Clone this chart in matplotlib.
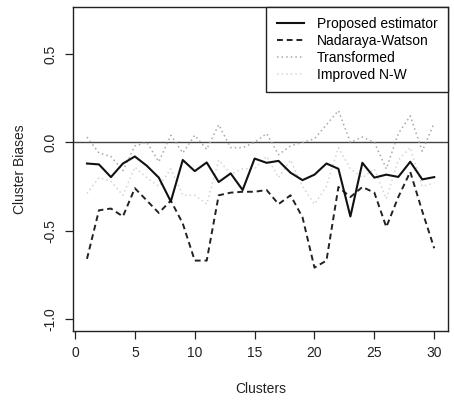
import matplotlib.pyplot as plt

plt.rcParams['font.family'] = ['Liberation Sans', 'DejaVu Sans']

clusters = list(range(1, 31))

proposed = [-0.12, -0.125, -0.197, -0.12, -0.08, -0.133, -0.20, -0.335, -0.10, -0.163,
            -0.114, -0.225, -0.176, -0.27, -0.092, -0.116, -0.105, -0.172, -0.214, -0.183,
            -0.12, -0.15, -0.42, -0.116, -0.20, -0.183, -0.196, -0.11, -0.21, -0.197]

nadaraya_watson = [-0.66, -0.385, -0.375, -0.42, -0.26, -0.33, -0.40, -0.33, -0.46, -0.67,
                   -0.67, -0.30, -0.285, -0.28, -0.28, -0.27, -0.35, -0.30, -0.425, -0.71,
                   -0.67, -0.253, -0.31, -0.253, -0.285, -0.48, -0.31, -0.167, -0.39, -0.60]

transformed = [0.03, -0.06, -0.08, -0.16, -0.02, 0.0, -0.11, 0.04, -0.06, 0.04,
               -0.04, 0.10, -0.03, -0.03, 0.0, 0.05, -0.07, -0.02, 0.0, 0.02,
               0.10, 0.18, 0.0, 0.03, 0.0, -0.15, 0.05, 0.15, -0.05, 0.11]

improved_nw = [-0.29, -0.20, -0.22, -0.30, -0.14, -0.20, -0.25, -0.15, -0.30, -0.30,
               -0.35, -0.10, -0.18, -0.15, -0.15, -0.08, -0.20, -0.10, -0.25, -0.35,
               -0.25, -0.03, -0.15, -0.20, -0.15, -0.32, -0.10, -0.03, -0.25, -0.23]

fig = plt.figure(figsize=(4.54, 4.01), dpi=100)
ax = fig.add_axes([0.161, 0.175, 0.826, 0.808])

ax.axhline(0, color='#444444', lw=1.0, zorder=1)
ax.plot(clusters, improved_nw, color='#d4d4d4', ls=(0, (1, 2)), lw=1.1, label='Improved N-W')
ax.plot(clusters, transformed, color='#a8a8a8', ls=(0, (1, 2)), lw=1.1, label='Transformed')
ax.plot(clusters, nadaraya_watson, color='#222222', ls=(0, (3, 2)), lw=1.4, label='Nadaraya-Watson')
ax.plot(clusters, proposed, color='#111111', ls='-', lw=1.5, label='Proposed estimator')

ax.set_xlim(-0.16, 31.16)
ax.set_ylim(-1.068, 0.768)
ax.set_xticks([0, 5, 10, 15, 20, 25, 30])
ax.set_yticks([-1.0, -0.5, 0.0, 0.5])
ax.set_yticklabels(['-1.0', '-0.5', '0.0', '0.5'], rotation=90, va='center')
ax.tick_params(direction='out', length=6, width=0.9, labelsize=10, colors='#222222', pad=5)

for s in ax.spines.values():
    s.set_linewidth(1.0)
    s.set_color('#222222')

ax.set_xlabel('Clusters', fontsize=10, labelpad=16, color='#222222')
ax.set_ylabel('Cluster Biases', fontsize=10, labelpad=12, color='#222222')

# legend in R order: proposed, N-W, transformed, improved
handles, labels = ax.get_legend_handles_labels()
order = [3, 2, 1, 0]
leg = ax.legend([handles[i] for i in order], [labels[i] for i in order],
                loc='upper right', borderaxespad=0, fancybox=False, framealpha=1,
                edgecolor='#222222', fontsize=10, handlelength=2.0, handletextpad=0.9,
                labelspacing=0.2, borderpad=0.75)
leg.get_frame().set_linewidth(1.0)

fig.savefig('out.png', dpi=100)
